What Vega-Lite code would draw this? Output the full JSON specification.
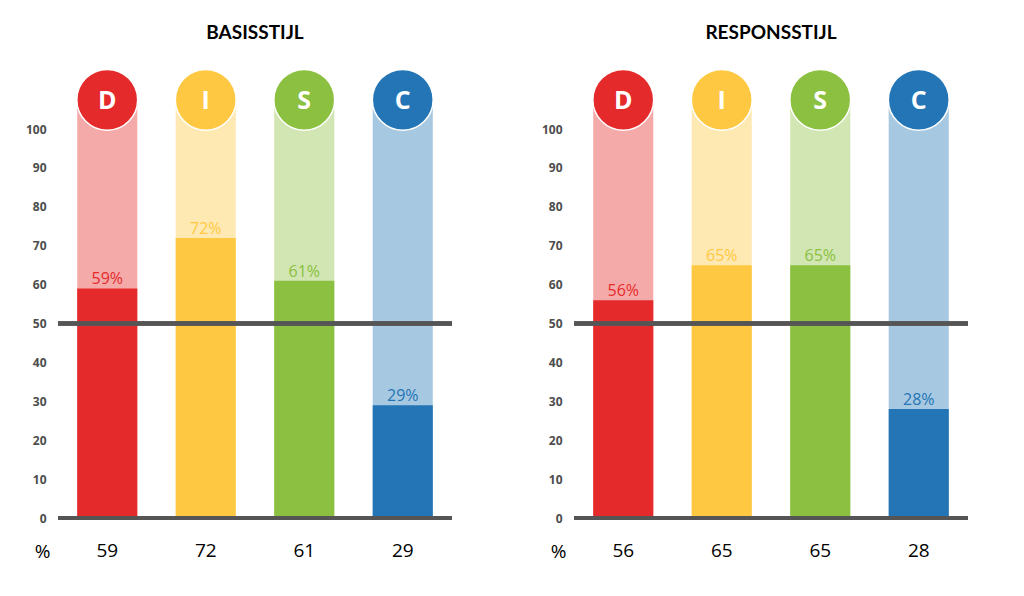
{
  "$schema": "https://vega.github.io/schema/vega-lite/v6.json",
  "background": "white",
  "padding": {"top": 24, "left": 25, "right": 5, "bottom": 5},
  "config": {"view": {"stroke": null}},
  "datasets": {
    "disc": [
      {"panel": "BASISSTIJL", "letter": "D", "value": 59},
      {"panel": "BASISSTIJL", "letter": "I", "value": 72},
      {"panel": "BASISSTIJL", "letter": "S", "value": 61},
      {"panel": "BASISSTIJL", "letter": "C", "value": 29},
      {"panel": "RESPONSSTIJL", "letter": "D", "value": 56},
      {"panel": "RESPONSSTIJL", "letter": "I", "value": 65},
      {"panel": "RESPONSSTIJL", "letter": "S", "value": 65},
      {"panel": "RESPONSSTIJL", "letter": "C", "value": 28}
    ]
  },
  "spacing": 87,
  "hconcat": [
    {
      "width": 394,
      "height": 389,
      "title": {"text": "BASISSTIJL", "font": "Lato", "fontSize": 19, "fontWeight": "bold", "color": "#000000", "anchor": "middle", "offset": 23},
      "data": {"name": "disc"},
      "transform": [{"filter": "datum.panel === 'BASISSTIJL'"}],
      "layer": [
        {
          "mark": {"type": "bar", "opacity": 0.4},
          "encoding": {
            "x": {"field": "letter", "type": "nominal", "sort": ["D", "I", "S", "C"], "scale": {"paddingInner": 0.39, "paddingOuter": 0.195}, "axis": null},
            "y": {"datum": 107.5, "type": "quantitative", "scale": {"domain": [0, 100], "nice": false},
              "axis": {"values": [0, 10, 20, 30, 40, 50, 60, 70, 80, 90, 100], "tickCount": 11, "labelOverlap": false, "domain": false, "ticks": false, "grid": false, "labelPadding": 12, "labelFont": "Open Sans", "labelFontWeight": "bold", "labelFontSize": 12, "labelColor": "#4d4d4d",
                "title": "%", "titleAngle": 0, "titleX": -16, "titleY": 428, "titleAlign": "center", "titleBaseline": "alphabetic", "titleFont": "Open Sans", "titleFontSize": 19, "titleFontWeight": "normal", "titleColor": "#000000"}},
            "y2": {"datum": 0},
            "color": {"field": "letter", "type": "nominal", "scale": {"domain": ["D", "I", "S", "C"], "range": ["#E52A2B", "#FFC842", "#8BC040", "#2375B5"]}, "legend": null}
          }
        },
        {
          "mark": {"type": "bar"},
          "encoding": {
            "x": {"field": "letter", "type": "nominal", "sort": ["D", "I", "S", "C"]},
            "y": {"field": "value", "type": "quantitative",
              "axis": {"values": [0, 10, 20, 30, 40, 50, 60, 70, 80, 90, 100], "tickCount": 11, "labelOverlap": false, "domain": false, "ticks": false, "grid": false, "labelPadding": 12, "labelFont": "Open Sans", "labelFontWeight": "bold", "labelFontSize": 12, "labelColor": "#4d4d4d",
                "title": "%", "titleAngle": 0, "titleX": -16, "titleY": 428, "titleAlign": "center", "titleBaseline": "alphabetic", "titleFont": "Open Sans", "titleFontSize": 19, "titleFontWeight": "normal", "titleColor": "#000000"}},
            "color": {"field": "letter", "type": "nominal", "legend": null}
          }
        },
        {
          "mark": {"type": "rule", "color": "#555555", "strokeWidth": 4},
          "encoding": {"y": {"datum": 50}}
        },
        {
          "mark": {"type": "rule", "color": "#555555", "strokeWidth": 4},
          "encoding": {"y": {"datum": 0}}
        },
        {
          "mark": {"type": "text", "font": "Open Sans", "fontSize": 16, "baseline": "alphabetic", "dy": -4, "text": {"expr": "datum.value + '%'"}},
          "encoding": {
            "x": {"field": "letter", "type": "nominal", "sort": ["D", "I", "S", "C"]},
            "y": {"field": "value", "type": "quantitative"},
            "color": {"field": "letter", "type": "nominal", "legend": null}
          }
        },
        {
          "mark": {"type": "point", "shape": "circle", "filled": true, "opacity": 1, "size": 3700, "stroke": "#ffffff", "strokeWidth": 1.5},
          "encoding": {
            "x": {"field": "letter", "type": "nominal", "sort": ["D", "I", "S", "C"]},
            "y": {"datum": 107.5},
            "fill": {"field": "letter", "type": "nominal", "scale": {"domain": ["D", "I", "S", "C"], "range": ["#E52A2B", "#FFC842", "#8BC040", "#2375B5"]}, "legend": null}
          }
        },
        {
          "mark": {"type": "text", "font": "Open Sans", "fontSize": 25, "fontWeight": "bold", "color": "#ffffff", "baseline": "middle", "dy": 1},
          "encoding": {
            "x": {"field": "letter", "type": "nominal", "sort": ["D", "I", "S", "C"]},
            "y": {"datum": 107.5},
            "text": {"field": "letter"}
          }
        },
        {
          "mark": {"type": "text", "font": "Open Sans", "fontSize": 19, "color": "#000000", "baseline": "alphabetic", "dy": 39},
          "encoding": {
            "x": {"field": "letter", "type": "nominal", "sort": ["D", "I", "S", "C"]},
            "y": {"datum": 0},
            "text": {"field": "value", "type": "quantitative"}
          }
        }
      ]
    },
    {
      "width": 394,
      "height": 389,
      "title": {"text": "RESPONSSTIJL", "font": "Lato", "fontSize": 19, "fontWeight": "bold", "color": "#000000", "anchor": "middle", "offset": 23},
      "data": {"name": "disc"},
      "transform": [{"filter": "datum.panel === 'RESPONSSTIJL'"}],
      "layer": [
        {
          "mark": {"type": "bar", "opacity": 0.4},
          "encoding": {
            "x": {"field": "letter", "type": "nominal", "sort": ["D", "I", "S", "C"], "scale": {"paddingInner": 0.39, "paddingOuter": 0.195}, "axis": null},
            "y": {"datum": 107.5, "type": "quantitative", "scale": {"domain": [0, 100], "nice": false},
              "axis": {"values": [0, 10, 20, 30, 40, 50, 60, 70, 80, 90, 100], "tickCount": 11, "labelOverlap": false, "domain": false, "ticks": false, "grid": false, "labelPadding": 12, "labelFont": "Open Sans", "labelFontWeight": "bold", "labelFontSize": 12, "labelColor": "#4d4d4d",
                "title": "%", "titleAngle": 0, "titleX": -16, "titleY": 428, "titleAlign": "center", "titleBaseline": "alphabetic", "titleFont": "Open Sans", "titleFontSize": 19, "titleFontWeight": "normal", "titleColor": "#000000"}},
            "y2": {"datum": 0},
            "color": {"field": "letter", "type": "nominal", "scale": {"domain": ["D", "I", "S", "C"], "range": ["#E52A2B", "#FFC842", "#8BC040", "#2375B5"]}, "legend": null}
          }
        },
        {
          "mark": {"type": "bar"},
          "encoding": {
            "x": {"field": "letter", "type": "nominal", "sort": ["D", "I", "S", "C"]},
            "y": {"field": "value", "type": "quantitative",
              "axis": {"values": [0, 10, 20, 30, 40, 50, 60, 70, 80, 90, 100], "tickCount": 11, "labelOverlap": false, "domain": false, "ticks": false, "grid": false, "labelPadding": 12, "labelFont": "Open Sans", "labelFontWeight": "bold", "labelFontSize": 12, "labelColor": "#4d4d4d",
                "title": "%", "titleAngle": 0, "titleX": -16, "titleY": 428, "titleAlign": "center", "titleBaseline": "alphabetic", "titleFont": "Open Sans", "titleFontSize": 19, "titleFontWeight": "normal", "titleColor": "#000000"}},
            "color": {"field": "letter", "type": "nominal", "legend": null}
          }
        },
        {
          "mark": {"type": "rule", "color": "#555555", "strokeWidth": 4},
          "encoding": {"y": {"datum": 50}}
        },
        {
          "mark": {"type": "rule", "color": "#555555", "strokeWidth": 4},
          "encoding": {"y": {"datum": 0}}
        },
        {
          "mark": {"type": "text", "font": "Open Sans", "fontSize": 16, "baseline": "alphabetic", "dy": -4, "text": {"expr": "datum.value + '%'"}},
          "encoding": {
            "x": {"field": "letter", "type": "nominal", "sort": ["D", "I", "S", "C"]},
            "y": {"field": "value", "type": "quantitative"},
            "color": {"field": "letter", "type": "nominal", "legend": null}
          }
        },
        {
          "mark": {"type": "point", "shape": "circle", "filled": true, "opacity": 1, "size": 3700, "stroke": "#ffffff", "strokeWidth": 1.5},
          "encoding": {
            "x": {"field": "letter", "type": "nominal", "sort": ["D", "I", "S", "C"]},
            "y": {"datum": 107.5},
            "fill": {"field": "letter", "type": "nominal", "scale": {"domain": ["D", "I", "S", "C"], "range": ["#E52A2B", "#FFC842", "#8BC040", "#2375B5"]}, "legend": null}
          }
        },
        {
          "mark": {"type": "text", "font": "Open Sans", "fontSize": 25, "fontWeight": "bold", "color": "#ffffff", "baseline": "middle", "dy": 1},
          "encoding": {
            "x": {"field": "letter", "type": "nominal", "sort": ["D", "I", "S", "C"]},
            "y": {"datum": 107.5},
            "text": {"field": "letter"}
          }
        },
        {
          "mark": {"type": "text", "font": "Open Sans", "fontSize": 19, "color": "#000000", "baseline": "alphabetic", "dy": 39},
          "encoding": {
            "x": {"field": "letter", "type": "nominal", "sort": ["D", "I", "S", "C"]},
            "y": {"datum": 0},
            "text": {"field": "value", "type": "quantitative"}
          }
        }
      ]
    }
  ]
}
